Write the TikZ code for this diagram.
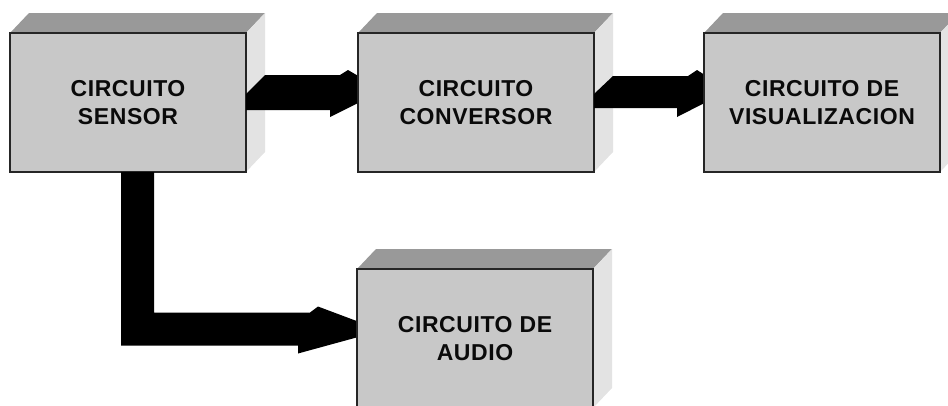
\documentclass[tikz,border=0pt]{standalone}
\usepackage{fontspec}
\setmainfont{Liberation Sans}[LetterSpace=2.5]
\usetikzlibrary{calc}
\pgfdeclarelayer{under}
\pgfdeclarelayer{arrowsA}
\pgfdeclarelayer{middle}
\pgfdeclarelayer{arrowsB}
\pgfsetlayers{under,arrowsA,middle,arrowsB,main}
\definecolor{frontgray}{HTML}{C8C8C8}
\definecolor{topgray}{HTML}{999999}
\definecolor{sidegray}{HTML}{E3E3E3}
\definecolor{ink}{HTML}{0A0A0A}

% top and right faces of a 3D block, plus the outline of its front face
\newcommand\blockfaces[1]{%
  \fill[topgray] (#1.north west) -- ++(19,-20) -- ($(#1.north east)+(19,-20)$) -- (#1.north east) -- cycle;
  \fill[sidegray] (#1.north east) -- ++(19,-20) -- ($(#1.south east)+(19,-20)$) -- (#1.south east) -- cycle;
  \draw[frontedge] (#1.north west) rectangle (#1.south east);
}

\begin{document}
\begin{tikzpicture}[x=1pt,y=-1pt,
  block/.style={fill=frontgray, minimum width=236pt, minimum height=139pt,
    inner sep=0pt, outer sep=0pt, align=center, text=ink,
    font=\bfseries\fontsize{23}{28.3}\selectfont},
  frontedge/.style={draw=black!85, line width=1.3pt},
  bigarrow/.style={fill=black}]
\useasboundingbox (0,0) rectangle (948,405);
\clip (0,0) rectangle (948,405);

\begin{pgfonlayer}{under}
  \node[block] (sensor) at (128,102.5) {CIRCUITO\\SENSOR};
  \blockfaces{sensor}
\end{pgfonlayer}

\begin{pgfonlayer}{middle}
  \node[block] (conv) at (476,102.5) {CIRCUITO\\CONVERSOR};
  \blockfaces{conv}
  \node[block] (audio) at (475,338.5) {CIRCUITO DE\\AUDIO};
  \blockfaces{audio}
\end{pgfonlayer}

\node[block] (visual) at (822,102.5) {CIRCUITO DE\\VISUALIZACION};
\blockfaces{visual}

\begin{pgfonlayer}{arrowsA}
  % sensor -> conversor
  \fill[bigarrow] ($(sensor.east)+(0,-8.5)$) -- ($(sensor.east)+(19,-27.5)$)
    -- ($(conv.west)+(-18,-27.5)$) -- ($(conv.west)+(-10,-32.5)$)
    -- ($(conv.west)+(25,-12)$) -- ($(conv.west)+(-28,14.5)$)
    -- ($(conv.west)+(-28,7.5)$) -- ($(sensor.east)+(0,7.5)$) -- cycle;
  % sensor -> audio, an L-shaped arrow
  \coordinate (s1) at ($(sensor.south)+(-7,0)$);
  \coordinate (s2) at ($(sensor.south)+(26,0)$);
  \coordinate (h1) at ($(audio.west)+(-47,-26)$);
  \coordinate (h2) at ($(audio.west)+(-59,7)$);
  \fill[bigarrow] (s1) -- (s2) -- (s2 |- h1) -- (h1)
    -- ($(audio.west)+(-39,-32)$) -- ($(audio.west)+(25,-8)$)
    -- ($(audio.west)+(-59,15)$) -- (h2)
    -- (s1 |- h2) -- cycle;
\end{pgfonlayer}

\begin{pgfonlayer}{arrowsB}
  % conversor -> visualizacion
  \fill[bigarrow] ($(conv.east)+(0,-8.5)$) -- ($(conv.east)+(19,-26.5)$)
    -- ($(visual.west)+(-16,-26.5)$) -- ($(visual.west)+(-7,-32.5)$)
    -- ($(visual.west)+(25,-12)$) -- ($(visual.west)+(-27,14.5)$)
    -- ($(visual.west)+(-27,5.5)$) -- ($(conv.east)+(0,5.5)$) -- cycle;
\end{pgfonlayer}
\end{tikzpicture}
\end{document}
